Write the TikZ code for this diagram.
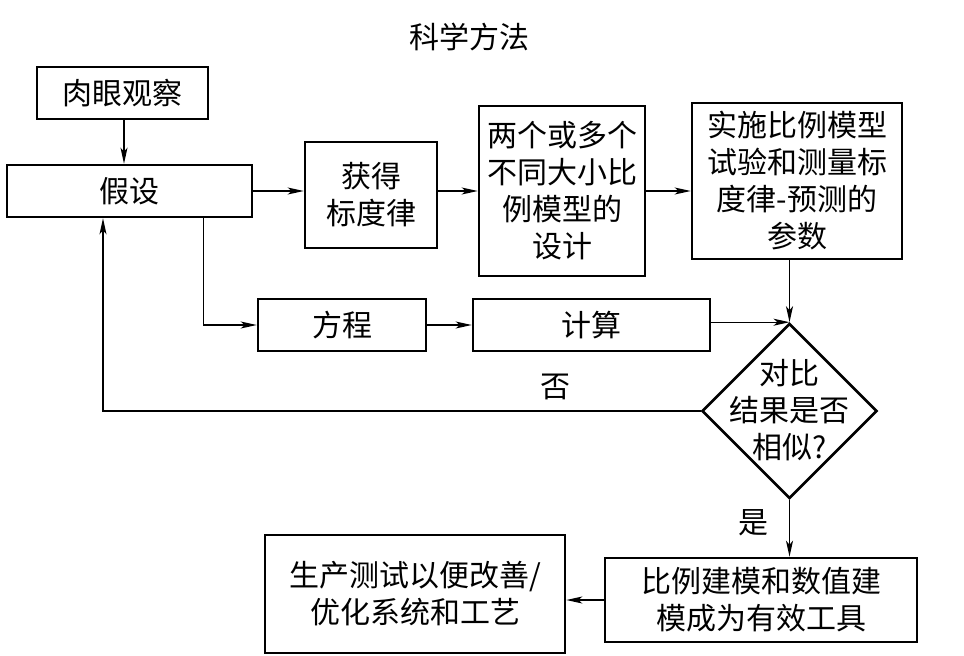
\documentclass[tikz,border=0pt]{standalone}
\usepackage{fontspec}
\newfontfamily\cjk{Noto Sans CJK SC}
\usepackage{tikz}
\usetikzlibrary{arrows.meta, shapes.geometric}
\tikzset{>={Stealth[length=16pt, width=7pt, inset=4pt]}}
\tikzset{
  cntext/.style={font=\cjk\fontsize{30}{37}\selectfont, align=center},
  block/.style={cntext, draw, line width=2.6pt, inner sep=0pt},
  decision/.style={draw, diamond, line width=2.6pt, inner sep=0pt, minimum width=175pt, minimum height=175pt},
  link/.style={->, line width=1.4pt}
}

\begin{document}
\begin{tikzpicture}[x=1pt, y=-1pt]
        \useasboundingbox (0, 0) rectangle (964, 656);
        \node[cntext] (title) at (469, 37) {科学方法};
        \node[block, minimum width=171pt, minimum height=52pt] (obs) at (122.5, 93) {肉眼观察};
        \node[block, minimum width=245pt, minimum height=52pt] (hyp) at (129.5, 191) {假设};
        \node[block, minimum width=132pt, minimum height=106pt] (law) at (371, 195) {获得\\标度律};
        \node[block, minimum width=166pt, minimum height=170pt] (design) at (562, 191) {两个或多个\\不同大小比\\例模型的\\设计};
        \node[block, minimum width=210pt, minimum height=156pt] (test) at (797, 181) {实施比例模型\\试验和测量标\\度律-预测的\\参数};
        \node[block, minimum width=168pt, minimum height=52pt] (eq) at (342, 325) {方程};
        \node[block, minimum width=237pt, minimum height=52pt] (calc) at (591.5, 325) {计算};
        \node[decision] (cmp) at (789.5, 411) {};
        \node[cntext] (cmptext) at (789.5, 410) {对比\\结果是否\\相似?};
        \node[block, minimum width=312pt, minimum height=84pt] (result) at (761, 600) {比例建模和数值建\\模成为有效工具};
        \node[block, minimum width=300pt, minimum height=118pt] (prod) at (415, 594) {生产测试以便改善/\\优化系统和工艺};
        \node[cntext] (no) at (555, 387) {否};
        \node[cntext] (yes) at (753, 523) {是};
        \draw[link] (obs.south -| 124, 0) -- (hyp.north -| 124, 0);
        \draw[link] (hyp.east) -- (hyp.east -| law.west);
        \draw[link] (hyp.east -| law.east) -- (hyp.east -| design.west);
        \draw[link] (hyp.east -| design.east) -- (hyp.east -| test.west);
        \draw[link] (cmp.north |- test.south) -- (cmp.north);
        \draw[link] ([xshift=74pt]hyp.south) |- (eq.west);
        \draw[link] (eq.east) -- (eq.east -| calc.west);
        \draw[link] (calc.east |- cmp.north) -- (cmp.north);
        \draw[link] (cmp.west) -| ([xshift=-26.5pt]hyp.south);
        \draw[link] (cmp.south) -- (cmp.south |- result.north);
        \draw[link] (result.west) -- (result.west -| prod.east);
    \end{tikzpicture}
\end{document}
